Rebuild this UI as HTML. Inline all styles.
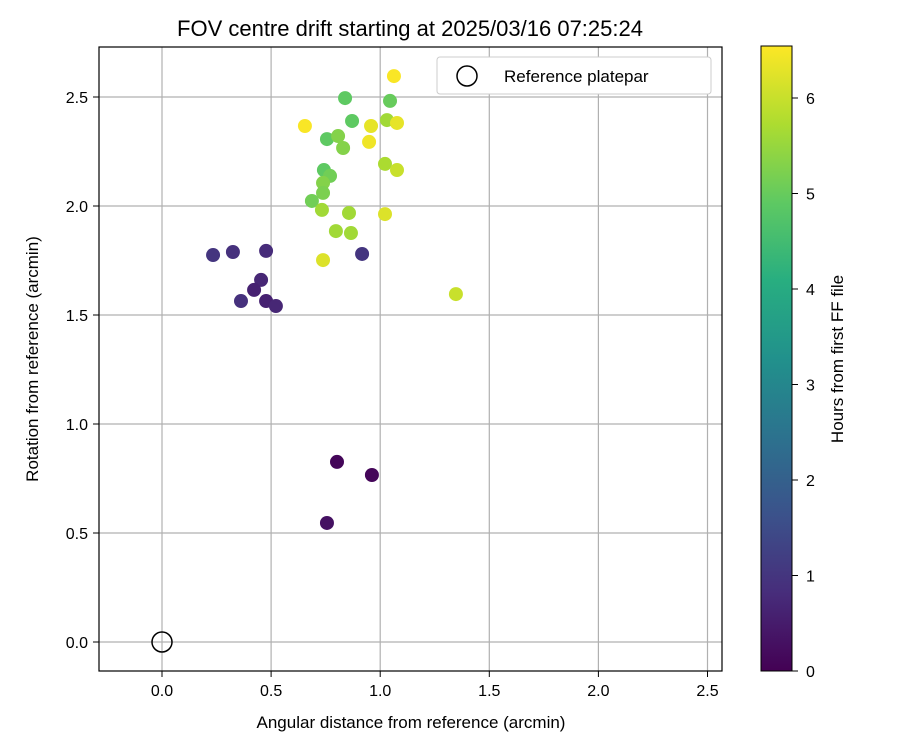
<!DOCTYPE html>
<html><head><meta charset="utf-8"><style>
body{margin:0;background:#fff}
svg text{font-family:"Liberation Sans","DejaVu Sans",sans-serif;fill:#000}
</style></head><body>
<svg id="chart" width="900" height="750" viewBox="0 0 900 750">
<defs><linearGradient id="vir" x1="0" y1="1" x2="0" y2="0">
<stop offset="0" stop-color="#440154"/><stop offset="0.125" stop-color="#472d7b"/><stop offset="0.25" stop-color="#3b528b"/><stop offset="0.375" stop-color="#2c728e"/><stop offset="0.5" stop-color="#21918c"/><stop offset="0.625" stop-color="#28ae80"/><stop offset="0.75" stop-color="#5ec962"/><stop offset="0.875" stop-color="#addc30"/><stop offset="1" stop-color="#fde725"/></linearGradient></defs>
<text x="410" y="36" font-size="22" text-anchor="middle">FOV centre drift starting at 2025/03/16 07:25:24</text>
<g id="grid"></g>
<g id="pts"></g>
<rect x="99" y="47" width="623" height="624" fill="none" stroke="#000" stroke-width="1.2"/>
<g id="ticks"></g>
<text x="411" y="728" font-size="17" text-anchor="middle">Angular distance from reference (arcmin)</text>
<text transform="translate(38,359) rotate(-90)" font-size="17" text-anchor="middle">Rotation from reference (arcmin)</text>
<g>
<rect x="437" y="57" width="274" height="37" rx="3" fill="#fff" stroke="#ccc"/>
<circle cx="467" cy="76" r="10" fill="none" stroke="#000" stroke-width="1.5"/>
<text x="504" y="82" font-size="17">Reference platepar</text>
</g>
<rect x="761" y="46" width="31" height="625" fill="url(#vir)" stroke="#000" stroke-width="1"/>
<g id="cbt"></g>
<text transform="translate(843,359) rotate(-90)" font-size="17" text-anchor="middle">Hours from first FF file</text>
</svg>
<script>
const xs=[0.655,1.063,0.839,1.045,0.871,1.031,1.077,0.958,0.756,0.807,0.830,0.949,1.022,1.077,0.742,0.770,0.738,0.738,0.687,0.733,0.857,1.022,0.797,0.866,0.738,1.347,0.234,0.325,0.477,0.917,0.454,0.422,0.362,0.477,0.522,0.802,0.962,0.756];
const ys=[2.367,2.596,2.495,2.482,2.390,2.394,2.381,2.367,2.307,2.321,2.266,2.294,2.193,2.165,2.165,2.138,2.106,2.060,2.023,1.982,1.968,1.963,1.885,1.876,1.752,1.596,1.775,1.789,1.794,1.780,1.661,1.615,1.564,1.564,1.541,0.826,0.766,0.546];
const hours=[6.5,6.5,4.9,5.0,4.9,5.6,6.3,6.3,4.9,5.3,5.3,6.4,5.7,6.0,4.9,5.1,5.3,5.2,5.1,5.6,5.6,6.2,5.6,5.6,6.2,6.0,1.0,0.9,0.8,1.0,0.7,0.6,0.9,0.6,0.7,0.1,0.1,0.3];
const xTicks=[0.0,0.5,1.0,1.5,2.0,2.5];
const yTicks=[0.0,0.5,1.0,1.5,2.0,2.5];
const cTicks=[0,1,2,3,4,5,6];
const X=v=>162+v*218.2, Y=v=>642-v*218, C=v=>671-v*95.5, HMAX=6.54;
const vir=[[68,1,84],[71,45,123],[59,82,139],[44,114,142],[33,145,140],[40,174,128],[94,201,98],[173,220,48],[253,231,37]];
function col(t){t=Math.max(0,Math.min(1,t))*8;const i=Math.min(7,Math.floor(t)),f=t-i,a=vir[i],b=vir[i+1];return `rgb(${a.map((c,k)=>Math.round(c+(b[k]-c)*f)).join(',')})`;}
const NS='http://www.w3.org/2000/svg';
function mk(tag,at,par){const e=document.createElementNS(NS,tag);for(const k in at)e.setAttribute(k,at[k]);document.getElementById(par).appendChild(e);return e;}
xTicks.forEach(v=>{
 let g=mk('line',{x1:X(v),x2:X(v),y1:47,y2:671,stroke:'#b0b0b0','stroke-width':1.2},'grid');
 
 
 let t=mk('line',{x1:X(v),x2:X(v),y1:671,y2:677,stroke:'#000'},'ticks');
 
 
 let l=mk('text',{x:X(v),y:696,'font-size':16,'text-anchor':'middle'},'ticks');l.textContent=v.toFixed(1);
 
 
});
yTicks.forEach(v=>{
 let g=mk('line',{x1:99,x2:722,y1:Y(v),y2:Y(v),stroke:'#b0b0b0','stroke-width':1.2},'grid');
 
 
 let t=mk('line',{x1:93,x2:99,y1:Y(v),y2:Y(v),stroke:'#000'},'ticks');
 
 
 let l=mk('text',{x:88,y:Y(v)+6,'font-size':16,'text-anchor':'end'},'ticks');l.textContent=v.toFixed(1);
 
 
});
cTicks.forEach(v=>{
 let t=mk('line',{x1:792,x2:798,y1:C(v),y2:C(v),stroke:'#000'},'cbt');
 
 
 let l=mk('text',{x:806,y:C(v)+6,'font-size':16},'cbt');l.textContent=v;
 
 
});
xs.forEach((x,i)=>{
 let p=mk('circle',{cx:X(x),cy:Y(ys[i]),r:7,fill:col(hours[i]/HMAX)},'pts');
 
 
});
let r=mk('circle',{cx:X(0),cy:Y(0),r:10,fill:'none',stroke:'#000','stroke-width':1.5},'pts');


</script>
</body></html>
